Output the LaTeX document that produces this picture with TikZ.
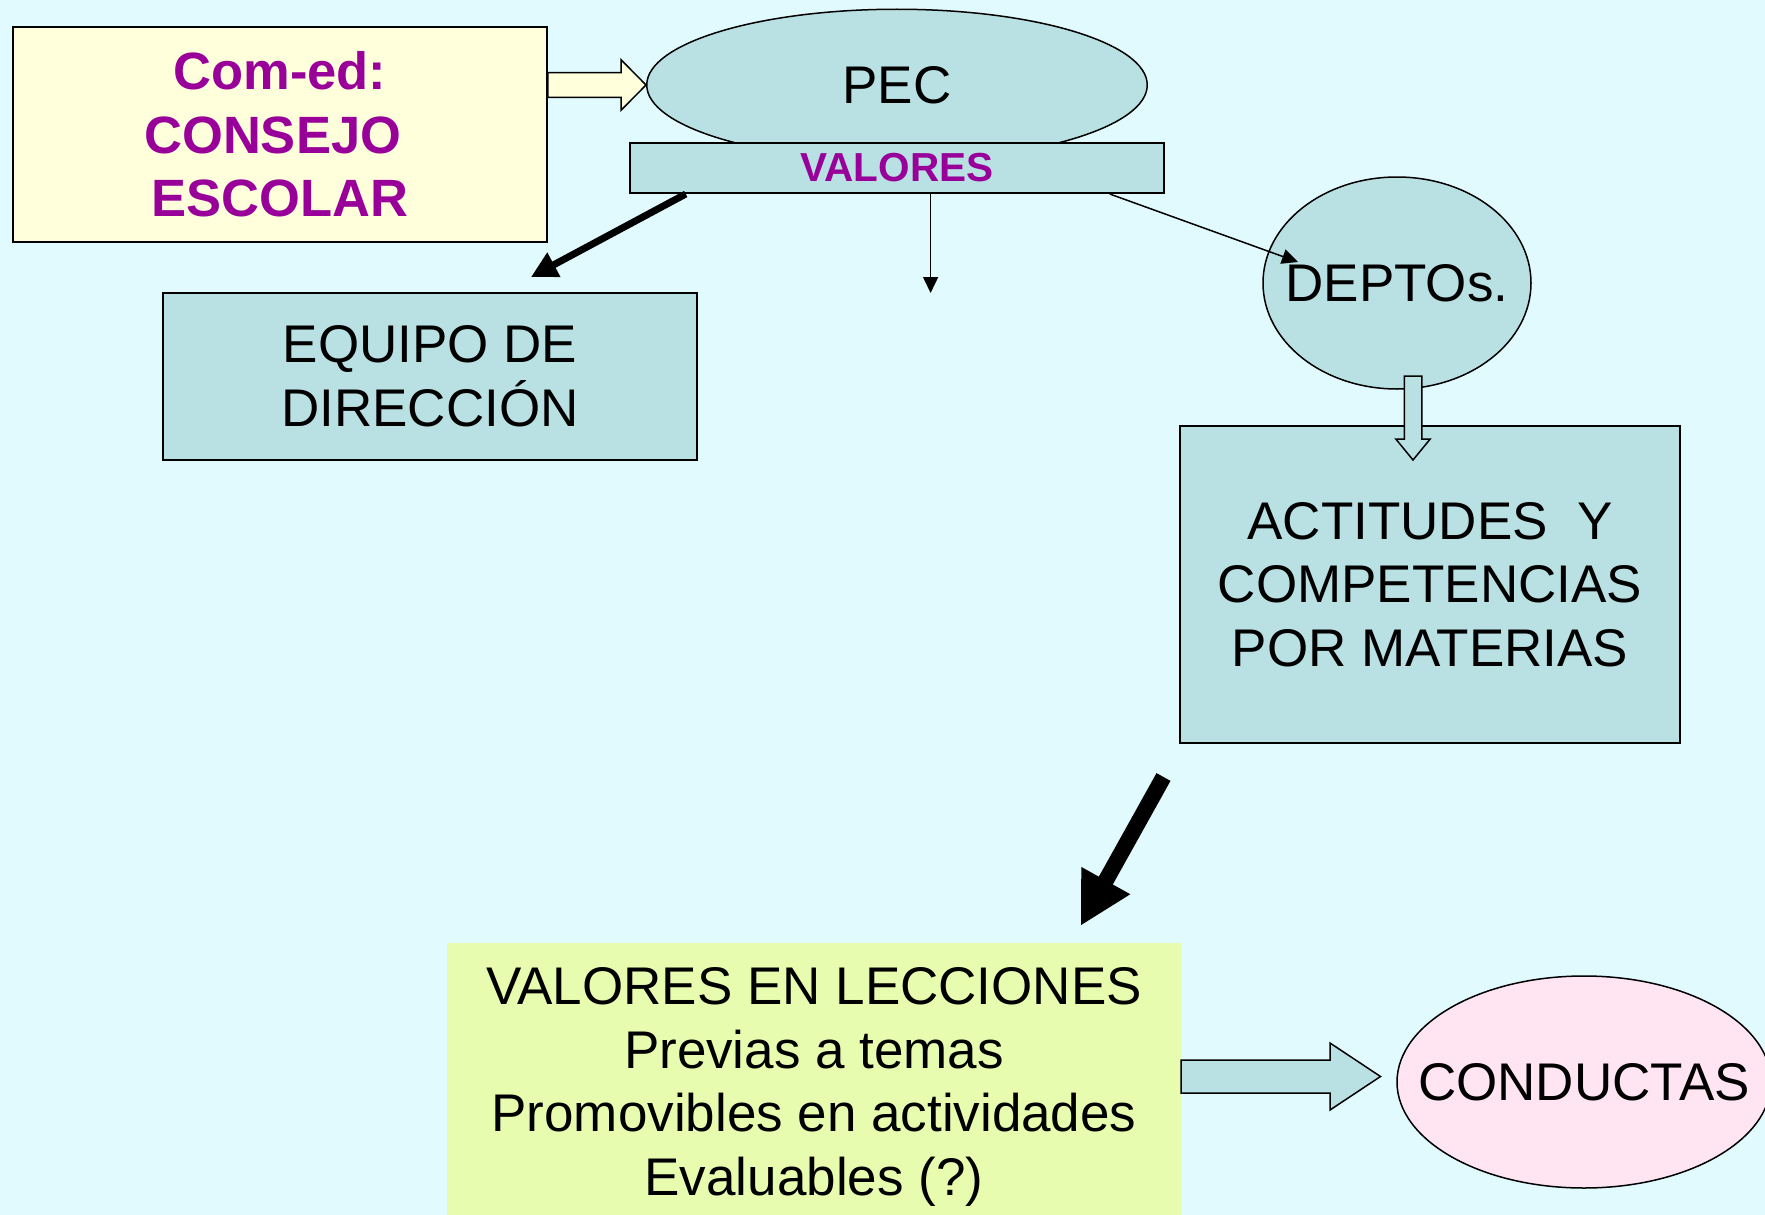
\documentclass[tikz,border=0pt]{standalone}
\usepackage{fontspec}
\setmainfont{Liberation Sans}
\usetikzlibrary{arrows.meta,calc,shapes.geometric}
\definecolor{bgc}{HTML}{E0FAFE}
\definecolor{boxteal}{HTML}{B9E0E3}
\definecolor{creamy}{HTML}{FFFFDC}
\definecolor{limey}{HTML}{E8FCB0}
\definecolor{pinky}{HTML}{FFE4F2}
\definecolor{purp}{HTML}{990099}
\begin{document}
\begin{tikzpicture}[x=1pt,y=-1pt,
  txt/.style={font=\fontsize{53}{63.5}\selectfont, align=center, inner sep=0pt},
  btxt/.style={font=\fontsize{52.5}{63.5}\selectfont\bfseries, align=center, inner sep=0pt, text=purp},
  boxstyle/.style={draw=black, line width=2pt, rectangle, inner sep=0pt},
  ellstyle/.style={draw=black, line width=1.5pt, ellipse, inner sep=0pt},
  thinarrow/.style={line width=1.5pt, -{Triangle[length=16pt,width=15pt]}},
  thickarrow/.style={line width=7pt, -{Triangle[length=26pt,width=26pt]}},
  hugearrow/.style={line width=16pt, -{Triangle[length=52pt,width=52pt]}},
  hollow/.style={draw=black, line width=1.5pt, line join=miter}]
\useasboundingbox (0,0) rectangle (1765,1215);
\fill[bgc] (0,0) rectangle (1765,1215);

% nodes
\node[boxstyle, btxt, fill=creamy, minimum width=533.5pt, minimum height=215pt] (com) at (280,134.5)
  {Com-ed:\\CONSEJO\kern0.278em\\ESCOLAR};
\node[ellstyle, fill=boxteal, minimum width=500.5pt, minimum height=151.5pt] (pec) at (897,85) {};
\node[txt] (pect) at (pec.center) {PEC};
\node[boxstyle, fill=boxteal, minimum width=534.5pt, minimum height=50pt,
  font=\fontsize{40.5}{48}\selectfont\bfseries, text=purp] (val) at (897,168) {VALORES};
\node[boxstyle, txt, fill=boxteal, minimum width=534pt, minimum height=167pt] (equipo) at (430,376.5)
  {EQUIPO DE\\DIRECCIÓN};
\node[ellstyle, fill=boxteal, minimum width=268pt, minimum height=212pt] (depto) at (1397,283) {};
\node[txt] (deptot) at (depto.center) {DEPTOs.};
\node[boxstyle, line width=1.6pt, txt, fill=boxteal, minimum width=500.5pt, minimum height=317pt] (act) at (1430,584.5)
  {ACTITUDES\ \ Y\\COMPETENCIAS\\POR MATERIAS};
\node[txt, fill=limey, minimum width=734pt, minimum height=288pt] (yel) at (814,1087)
  {VALORES EN LECCIONES\\Previas a temas\\Promovibles en actividades\\Evaluables (?)};
\node[ellstyle, fill=pinky, minimum width=374pt, minimum height=212pt] (cond) at (1584,1082) {};
\node[txt] (condt) at (cond.center) {CONDUCTAS};

% free ends
\coordinate (eqtip) at (531,277);
\coordinate (vdown) at (930.6,293);
\coordinate (dtip) at ($(depto.center)+(-99,-21)$);
\coordinate (bigtail) at (1163.5,777);
\coordinate (bigtip) at (1080.5,926);
\coordinate (hd0) at (1413,376);
\coordinate (hd1) at (1413,460);

% connectors
\draw[thickarrow] ($(val.south west)+(57,0)$) -- (eqtip);
\draw[thinarrow] (val.south -| vdown) -- (vdown);
\draw[thinarrow, shorten >=0pt] ($(val.south east)+(-55.5,0)$) -- (dtip);
\draw[hugearrow] (bigtail) -- (bigtip);

% hollow block arrow com -> pec
\coordinate (a1s) at (com.east |- pec.west);
\draw[hollow, fill=creamy] ($(a1s)+(0,-12.3)$) -- ($(pec.west)+(-25,-12.3)$) -- ($(pec.west)+(-25,-25.3)$)
  -- (pec.west) -- ($(pec.west)+(-25,25.3)$) -- ($(pec.west)+(-25,12.3)$) -- ($(a1s)+(0,12.3)$) -- cycle;

% hollow block arrow depto -> act
\draw[hollow, fill=boxteal] ($(hd0)+(-8.75,0)$) -- ($(hd1)+(-8.75,-21)$) -- ($(hd1)+(-17.2,-21)$)
  -- (hd1) -- ($(hd1)+(17.2,-21)$) -- ($(hd1)+(8.75,-21)$) -- ($(hd0)+(8.75,0)$) -- cycle;

% big hollow block arrow yel -> cond
\coordinate (a3s) at ($(yel.east)+(0,-10.5)$);
\coordinate (a3t) at (1380.5,1076.5);
\draw[hollow, fill=boxteal] ($(a3s)+(0,-16.5)$) -- ($(a3t)+(-50.5,-16.5)$) -- ($(a3t)+(-50.5,-33.5)$)
  -- (a3t) -- ($(a3t)+(-50.5,33.5)$) -- ($(a3t)+(-50.5,16.5)$) -- ($(a3s)+(0,16.5)$) -- cycle;
\end{tikzpicture}
\end{document}
